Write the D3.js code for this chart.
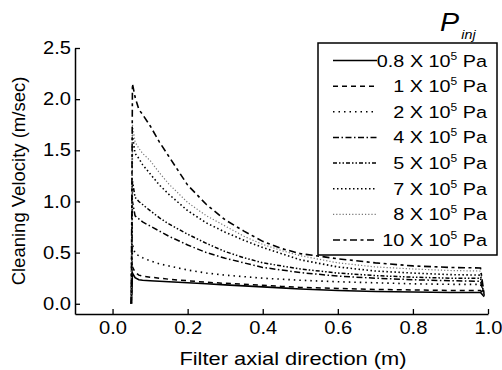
<!DOCTYPE html>
<html>
<head>
<meta charset="utf-8">
<script src="https://cdn.jsdelivr.net/npm/d3@7"></script>
<style>
  body { margin: 0; background: #fff; }
  svg { display: block; }
  text { font-family: "Liberation Sans", Arial, sans-serif; fill: #000; }
</style>
</head>
<body>
<svg id="chart" width="502" height="370"></svg>
<script>
// Axial positions along the filter (m), shared by every series
const xPositions = [0.05, 0.053, 0.06, 0.07, 0.08, 0.1, 0.125, 0.15, 0.2, 0.25, 0.3, 0.35, 0.4, 0.45, 0.5, 0.6, 0.7, 0.8, 0.9, 0.98, 0.99];

// Injection pressures (x 10^5 Pa)
const pressures = ["0.8", "1", "2", "4", "5", "7", "8", "10"];

// Cleaning velocity (m/sec) for each injection pressure
const vel08 = [0, 0.30, 0.255, 0.235, 0.23, 0.225, 0.22, 0.215, 0.205, 0.195, 0.185, 0.175, 0.165, 0.155, 0.145, 0.13, 0.12, 0.115, 0.11, 0.11, 0.07];
const vel1  = [0, 0.36, 0.31, 0.28, 0.27, 0.26, 0.25, 0.24, 0.225, 0.21, 0.20, 0.19, 0.18, 0.17, 0.16, 0.15, 0.14, 0.135, 0.13, 0.13, 0.08];
const vel2  = [0, 0.58, 0.49, 0.47, 0.45, 0.42, 0.39, 0.37, 0.33, 0.30, 0.28, 0.265, 0.25, 0.24, 0.23, 0.215, 0.205, 0.195, 0.19, 0.19, 0.08];
const vel4  = [0, 1.00, 0.86, 0.83, 0.80, 0.76, 0.71, 0.66, 0.575, 0.50, 0.445, 0.40, 0.355, 0.33, 0.305, 0.27, 0.25, 0.235, 0.225, 0.22, 0.08];
const vel5  = [0, 1.20, 1.04, 1.00, 0.97, 0.91, 0.84, 0.78, 0.68, 0.59, 0.51, 0.45, 0.40, 0.37, 0.34, 0.30, 0.275, 0.26, 0.25, 0.25, 0.08];
const vel7  = [0, 1.65, 1.47, 1.42, 1.36, 1.27, 1.16, 1.07, 0.91, 0.79, 0.70, 0.62, 0.55, 0.49, 0.43, 0.36, 0.32, 0.30, 0.285, 0.28, 0.08];
const vel8  = [0, 1.75, 1.58, 1.52, 1.47, 1.40, 1.28, 1.17, 0.99, 0.86, 0.76, 0.66, 0.58, 0.52, 0.47, 0.40, 0.36, 0.34, 0.325, 0.32, 0.08];
const vel10 = [0, 2.15, 2.02, 1.90, 1.85, 1.74, 1.58, 1.44, 1.16, 0.97, 0.82, 0.71, 0.61, 0.54, 0.49, 0.44, 0.40, 0.37, 0.355, 0.35, 0.08];

const xTicks = [0.0, 0.2, 0.4, 0.6, 0.8, 1.0];
const yTicks = [0.0, 0.5, 1.0, 1.5, 2.0, 2.5];

// Line style per series: dash pattern and stroke colour
const seriesStyles = [
  { dash: null,              color: "#000", width: 1.6 },
  { dash: "5,4",             color: "#000", width: 1.5 },
  { dash: "1.5,4",           color: "#000", width: 1.6 },
  { dash: "6,2.5,1.5,2.5",   color: "#000", width: 1.5 },
  { dash: "4,2,1.5,2,1.5,2", color: "#000", width: 1.5 },
  { dash: "1.5,2.5",         color: "#000", width: 1.6 },
  { dash: "1.2,2",           color: "#777", width: 1.2 },
  { dash: "7,3.5,3,3.5",     color: "#000", width: 1.6 }
];

const seriesValues = [vel08, vel1, vel2, vel4, vel5, vel7, vel8, vel10];

const svg = d3.select("#chart");
const TEXT_STRETCH = 1.25;
const TICK_STRETCH = 1.15;

const x = d3.scaleLinear().domain([-0.1, 1.0]).range([75, 488]);
const y = d3.scaleLinear().domain([-0.1, 2.5]).range([314, 48]);

// Curves
const line = d3.line().x(d => x(d[0])).y(d => y(d[1]));
seriesValues.forEach((vals, i) => {
  const pts = xPositions.map((xp, j) => [xp, vals[j]]);
  const st = seriesStyles[i];
  svg.append("path")
    .datum(pts)
    .attr("d", line)
    .attr("fill", "none")
    .attr("stroke", st.color)
    .attr("stroke-width", st.width)
    .attr("stroke-dasharray", st.dash);
});

// Stretch tick labels horizontally around their anchor
function stretchLabels(g) {
  g.selectAll(".tick text").each(function () {
    const t = d3.select(this);
    const tx = +t.attr("x") || 0;
    const ty = +t.attr("y") || 0;
    t.attr("x", null).attr("y", null)
     .attr("transform", `translate(${tx},${ty}) scale(${TICK_STRETCH},1)`);
  });
}

// Axes with inward ticks
const xAxis = d3.axisBottom(x).tickValues(xTicks).tickFormat(d3.format(".1f"))
  .tickSizeInner(-5).tickSizeOuter(0).tickPadding(8);
const yAxis = d3.axisLeft(y).tickValues(yTicks).tickFormat(d3.format(".1f"))
  .tickSizeInner(-5).tickSizeOuter(0).tickPadding(4);

const gx = svg.append("g").attr("transform", "translate(0,314)").call(xAxis);
const gy = svg.append("g").attr("transform", "translate(75,0)").call(yAxis);
[gx, gy].forEach(g => {
  g.select(".domain").attr("stroke", "#000").attr("stroke-width", 1.5);
  g.selectAll(".tick line").attr("stroke", "#000").attr("stroke-width", 1.3);
  g.selectAll(".tick text").attr("font-size", 17.5).attr("fill", "#000")
    .style("font-family", '"Liberation Sans", Arial, sans-serif');
  stretchLabels(g);
});

// Axis titles
svg.append("text")
  .attr("transform", `translate(293,365) scale(${TEXT_STRETCH},1)`)
  .attr("text-anchor", "middle")
  .attr("font-size", 17.5)
  .text("Filter axial direction (m)");

svg.append("text")
  .attr("transform", "translate(25,181) rotate(-90)")
  .attr("text-anchor", "middle")
  .attr("font-size", 18.5)
  .text("Cleaning Velocity (m/sec)");

// Legend
const legend = svg.append("g");
legend.append("rect")
  .attr("x", 318).attr("y", 43).attr("width", 179).attr("height", 212)
  .attr("fill", "#fff").attr("stroke", "#000").attr("stroke-width", 1.5);

const title = legend.append("text")
  .attr("transform", `translate(440,31) scale(1.1,1)`)
  .attr("font-style", "italic");
title.append("tspan").attr("font-size", 26).text("P");
title.append("tspan").attr("font-size", 13).attr("dy", 8).attr("dx", 2).text("inj");

const rowY = d3.scaleLinear().domain([0, pressures.length - 1]).range([60.5, 240]);
pressures.forEach((p, i) => {
  const cy = rowY(i);
  const st = seriesStyles[i];
  legend.append("line")
    .attr("x1", 333).attr("x2", 377)
    .attr("y1", cy).attr("y2", cy)
    .attr("stroke", st.color)
    .attr("stroke-width", st.width)
    .attr("stroke-dasharray", st.dash);
  const t = legend.append("text")
    .attr("transform", `translate(487,${cy + 6}) scale(1.2,1)`)
    .attr("text-anchor", "end")
    .attr("font-size", 16.5);
  t.append("tspan").text(`${p} X 10`);
  t.append("tspan").attr("font-size", 10).attr("dy", -7).text("5");
  t.append("tspan").attr("dy", 7).text(" Pa");
});
</script>
</body>
</html>
